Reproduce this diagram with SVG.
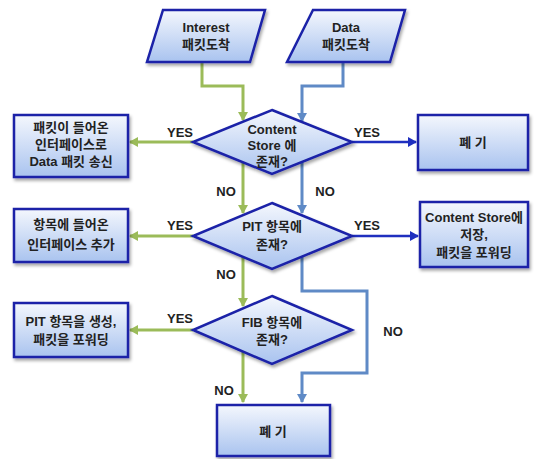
<svg xmlns="http://www.w3.org/2000/svg" width="536" height="459" viewBox="0 0 536 459">
<defs>
<linearGradient id="gf" x1="0" y1="0" x2="0" y2="1">
<stop offset="0" stop-color="#f4f7fd"/>
<stop offset="1" stop-color="#a9c3ef"/>
</linearGradient>
<filter id="sh" x="-10%" y="-10%" width="130%" height="140%">
<feDropShadow dx="1.5" dy="2.5" stdDeviation="1.5" flood-color="#000" flood-opacity="0.35"/>
</filter>
<marker id="ag" markerWidth="10" markerHeight="10" refX="8" refY="5" orient="auto" markerUnits="userSpaceOnUse">
<path d="M0,0 L9,5 L0,10 Z" fill="#9bbb59"/>
</marker>
<marker id="ab" markerWidth="10" markerHeight="10" refX="8" refY="5" orient="auto" markerUnits="userSpaceOnUse">
<path d="M0,0 L9,5 L0,10 Z" fill="#5f8ac6"/>
</marker>
<marker id="ad" markerWidth="10" markerHeight="10" refX="8" refY="5" orient="auto" markerUnits="userSpaceOnUse">
<path d="M0,0 L9,5 L0,10 Z" fill="#1f2fbf"/>
</marker>
</defs>
<style>
.n{fill:url(#gf);stroke:#1a22a8;stroke-width:2.5;filter:url(#sh)}
.t{font-family:"Liberation Sans","Noto Sans CJK KR",sans-serif;font-weight:bold;font-size:13px;fill:#222;text-anchor:middle}
.l{font-family:"Liberation Sans","Noto Sans CJK KR",sans-serif;font-weight:bold;font-size:13px;fill:#222;text-anchor:middle}
.g{fill:none;stroke:#9bbb59;stroke-width:3;marker-end:url(#ag)}
.b{fill:none;stroke:#5f8ac6;stroke-width:3;marker-end:url(#ab)}
.d{fill:none;stroke:#1f2fbf;stroke-width:2.5;marker-end:url(#ad)}
</style>
<rect width="536" height="459" fill="#fff"/>
<g id="connectors">
<path class="g" d="M202,62 V86 H243 V120"/>
<path class="b" d="M343,62 V86 H302 V121"/>
<path class="g" d="M193,142 H130"/>
<path class="d" d="M352,142 H416"/>
<path class="g" d="M243,162 V213"/>
<path class="b" d="M302,162 V213"/>
<path class="g" d="M193,236 H130"/>
<path class="d" d="M352,236 H418"/>
<path class="g" d="M243,257 V306"/>
<path class="b" d="M302,257 V291 H367 V373 H302 V402"/>
<path class="g" d="M193,330 H130"/>
<path class="g" d="M243,351 V402"/>
<text class="l" x="180" y="137">YES</text>
<text class="l" x="367" y="137">YES</text>
<text class="l" x="226" y="196">NO</text>
<text class="l" x="325" y="196">NO</text>
<text class="l" x="180" y="230">YES</text>
<text class="l" x="367" y="230">YES</text>
<text class="l" x="226" y="279">NO</text>
<text class="l" x="393" y="336">NO</text>
<text class="l" x="180" y="323">YES</text>
<text class="l" x="224" y="395">NO</text>
</g>
<g id="interest">
<polygon class="n" points="163,10 265,10 250,62 147,62"/>
<text class="t" x="206" y="32">Interest</text>
<text class="t" x="206" y="49">패킷도착</text>
</g>
<g id="data">
<polygon class="n" points="313,10 405,10 390,62 287,62"/>
<text class="t" x="346" y="32">Data</text>
<text class="t" x="346" y="49">패킷도착</text>
</g>
<g id="cs">
<polygon class="n" points="272,110 352,142 272,174 193,142"/>
<text class="t" x="272" y="134">Content</text>
<text class="t" x="272" y="150">Store 에</text>
<text class="t" x="272" y="166">존재?</text>
</g>
<g id="send-data">
<rect class="n" x="14" y="115" width="114" height="62"/>
<text class="t" x="71" y="132">패킷이 들어온</text>
<text class="t" x="71" y="149">인터페이스로</text>
<text class="t" x="71" y="166">Data 패킷 송신</text>
</g>
<g id="discard1">
<rect class="n" x="418" y="115" width="110" height="55"/>
<text class="t" x="473" y="147">폐 기</text>
</g>
<g id="pit">
<polygon class="n" points="272,203 352,236 272,269 193,236"/>
<text class="t" x="272" y="231">PIT 항목에</text>
<text class="t" x="272" y="249">존재?</text>
</g>
<g id="add-iface">
<rect class="n" x="14" y="209" width="114" height="53"/>
<text class="t" x="71" y="229">항목에 들어온</text>
<text class="t" x="71" y="249">인터페이스 추가</text>
</g>
<g id="store-forward">
<rect class="n" x="420" y="202" width="108" height="65"/>
<text class="t" x="474" y="222">Content Store에</text>
<text class="t" x="474" y="239">저장,</text>
<text class="t" x="474" y="257">패킷을 포워딩</text>
</g>
<g id="fib">
<polygon class="n" points="272,296 352,330 272,364 193,330"/>
<text class="t" x="272" y="327">FIB 항목에</text>
<text class="t" x="272" y="344">존재?</text>
</g>
<g id="create-pit">
<rect class="n" x="14" y="303" width="114" height="54"/>
<text class="t" x="71" y="326">PIT 항목을 생성,</text>
<text class="t" x="71" y="344">패킷을 포워딩</text>
</g>
<g id="discard2">
<rect class="n" x="217" y="405" width="113" height="51"/>
<text class="t" x="273" y="436">폐 기</text>
</g>
</svg>
